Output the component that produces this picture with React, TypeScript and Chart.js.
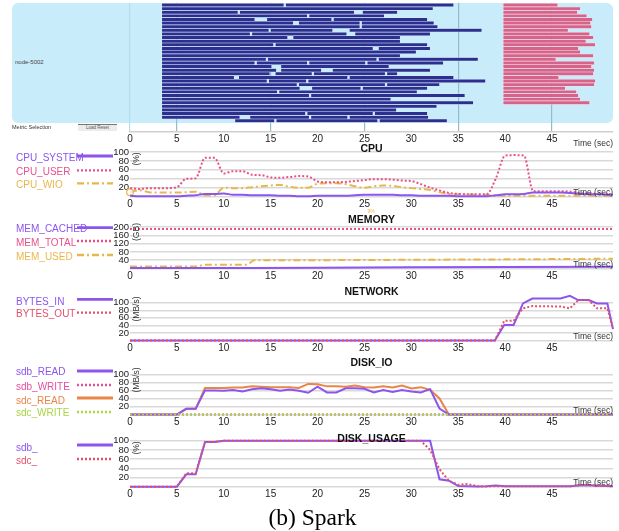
import React, { useEffect, useRef } from "react";
import { Chart, registerables } from "chart.js";

Chart.register(...registerables);

const FONT = "Arial, 'Liberation Sans', Helvetica, sans-serif";
const SERIF = "'Liberation Serif', 'Times New Roman', Times, serif";
Chart.defaults.font.family = FONT;

// ---------- shared axis ----------
const X_MAX = 51.5;
const LAST_TIME_LABEL = 45;
const TIME_STEP = 5;

// ---------- colours ----------
const PURPLE = "#8b55ee";
const PINK = "#e9508c";
const GOLD = "#e6b84a";
const RED = "#e4506a";
const MAGENTA = "#e54f9f";
const ORANGE = "#ea8448";
const GREEN = "#a9d546";
const BAR_BLUE = "#2c2f8d";
const BAR_PINK = "#d6638a";

// ---------- timeline (task bars) ----------
const blueRows: number[][][] = [
  [[3.4, 16.4], [16.6, 34.5]],
  [[3.4, 32.3]],
  [[3.4, 11.5], [11.7, 23.9], [24.8, 28.5]],
  [[3.4, 18.9], [19.1, 27.1]],
  [[3.4, 13.3], [14.6, 21.5], [21.7, 31.7]],
  [[3.4, 17.4], [18.0, 24.5], [24.7, 32.4]],
  [[3.4, 24.5], [24.7, 32.8]],
  [[3.4, 14.8], [15.0, 21.6], [23.4, 37.5]],
  [[3.4, 12.8], [13.0, 23.1], [24.0, 32.0]],
  [[3.4, 16.8], [17.4, 28.8]],
  [[3.4, 28.8]],
  [[3.4, 15.3], [15.5, 31.7]],
  [[3.4, 25.9], [26.5, 32.0]],
  [[3.4, 30.5]],
  [[3.4, 28.8]],
  [[3.4, 14.5], [14.7, 26.3], [26.5, 37.1]],
  [[3.4, 13.3], [13.5, 18.9], [19.1, 25.1], [25.3, 33.4]],
  [[3.4, 15.1], [16.1, 27.6]],
  [[3.4, 15.6], [16.1, 20.4], [21.6, 32.0]],
  [[3.4, 14.9], [15.5, 19.4], [19.6, 27.2], [27.4, 28.5]],
  [[3.4, 11.1], [11.6, 23.2], [23.4, 34.5]],
  [[3.4, 14.6], [14.8, 18.8], [19.0, 37.9]],
  [[3.4, 17.8], [18.0, 27.2], [27.4, 33.0]],
  [[3.4, 18.1], [19.4, 24.6], [24.8, 31.7]],
  [[3.4, 15.7], [15.9, 30.6]],
  [[3.4, 19.1], [19.3, 35.7]],
  [[3.4, 27.8]],
  [[3.4, 36.6]],
  [[3.4, 32.7]],
  [[3.4, 28.4]],
  [[3.4, 18.7], [18.9, 25.9], [26.1, 31.7]],
  [[3.4, 11.7], [12.8, 19.1], [19.3, 23.2], [23.4, 31.8]],
  [[11.2, 15.4], [15.6, 26.4], [26.6, 33.8]],
];
const pinkStart = 39.8;
const pinkEnds = [
  45.6, 48.0, 47.7, 48.7, 49.3, 49.1, 49.2, 46.7, 49.0, 49.4, 48.6, 49.6, 47.8, 48.0,
  49.4, 45.4, 49.5, 49.2, 49.5, 49.4, 45.7, 49.6, 49.5, 46.4, 47.6, 47.8, 48.0, 49.0,
];

// ---------- CPU (%) ----------
const cpuTime = [
  0, 1, 2, 3, 4, 5, 6, 7, 8, 9, 10, 11, 12, 13, 14, 15, 16, 17, 18, 19, 20, 21, 22, 23, 24, 25,
  26, 27, 28, 29, 30, 31, 32, 33, 34, 35, 36, 37, 38, 39, 40, 41, 42, 43, 44, 45, 46, 47, 48, 49,
  50, 51, 51.5,
];
const cpuSystem = [
  2, 1, 1, 1, 1, 1, 2, 3, 6, 6, 7, 4, 4, 3, 3, 3, 2, 2, 1, 1, 2, 2, 2, 2, 3, 4,
  4, 4, 4, 3, 3, 2, 2, 2, 2, 1, 1, 1, 1, 3, 5, 5, 6, 9, 9, 9, 9, 8, 6, 5,
  5, 4, 4,
];
const cpuUser = [
  19, 17, 19, 19, 19, 21, 40, 41, 87, 87, 52, 57, 57, 49, 48, 43, 42, 44, 46, 45, 34, 32, 32, 33, 35, 37,
  39, 39, 38, 36, 35, 28, 20, 14, 8, 6, 5, 5, 5, 40, 92, 93, 92, 12, 12, 12, 12, 11, 8, 7,
  6, 5, 5,
];
const cpuWio = [
  10, 14, 10, 9, 9, 9, 10, 11, 3, 3, 20, 19, 19, 21, 23, 25, 26, 22, 20, 20, 29, 30, 30, 28, 23, 20,
  23, 25, 24, 21, 19, 17, 15, 10, 6, 5, 5, 4, 4, 2, 2, 2, 2, 2, 2, 2, 2, 2, 2, 2,
  2, 2, 2,
];

// ---------- MEMORY (GB) ----------
const memTime = [0, 7, 8, 12.5, 13.2, 20, 30, 40, 51.5];
const memCached = [2, 2, 3, 3, 3, 4, 6, 7, 8];
const memTotal = [190, 190, 190, 190, 190, 190, 190, 190, 190];
const memUsed = [10, 10, 18, 18, 40, 40, 42, 44, 47];

// ---------- NETWORK (MB/s) ----------
const netTime = [0, 38.9, 39.9, 40.9, 41.9, 42.9, 45.9, 46.9, 47.8, 48.9, 49.8, 50.9, 51.5];
const bytesIn = [0, 0, 41, 41, 98, 111, 111, 118, 107, 107, 98, 98, 30];
const bytesOut = [0, 0, 52, 52, 85, 91, 90, 85, 107, 107, 85, 85, 32];

// ---------- DISK_IO (MB/s) ----------
const ioTime = [
  0, 1, 2, 3, 4, 5, 6, 7, 8, 9, 10, 11, 12, 13, 14, 15, 16, 17, 18, 19, 20, 21, 22, 23, 24, 25,
  26, 27, 28, 29, 30, 31, 32, 33, 34, 51.5,
];
const sdbRead = [
  0, 0, 0, 0, 0, 0, 14, 14, 60, 60, 59, 61, 57, 63, 65, 63, 59, 62, 59, 54, 69, 55, 55, 65, 65, 64,
  55, 61, 56, 61, 57, 55, 63, 15, 0, 0,
];
const sdcRead = [
  0, 0, 0, 0, 0, 0, 14, 14, 66, 66, 66, 67, 67, 70, 69, 68, 68, 68, 66, 76, 75, 70, 70, 69, 72, 68,
  67, 70, 67, 72, 65, 68, 61, 40, 0, 0,
];
const writeTime = [0, 51.5];
const sdbWrite = [0, 0];
const sdcWrite = [0, 0];

// ---------- DISK_USAGE (%) ----------
const usageTime = [0, 5, 6, 7, 8, 9, 10, 31, 32, 33, 34, 35, 36, 37, 38, 39, 40, 47, 48, 49, 50, 51.5];
const sdbUsage = [0, 0, 27, 27, 97, 97, 100, 100, 100, 16, 13, 1.5, 1, 0.5, 1, 2.5, 1, 1, 3, 3, 2, 1];
const sdcUsage = [0, 0, 29, 29, 97, 97, 100, 100, 80, 38, 13, 4, 6, 1, 0.5, 1, 1, 1, 3, 3, 2, 1];

// ---------- styles ----------
const SOLID: number[] = [];
const DOT = [2, 2];
const DASHDOT = [7, 3, 2, 3];

type Series = {
  name: string;
  x: number[];
  y: number[];
  color: string;
  dash: number[];
  labelY: number;
  lineY: number;
  order?: number;
  marker?: boolean;
};
type Panel = {
  title: string;
  unit: string;
  areaTop: number;
  areaBottom: number;
  yMax: number;
  yStep: number;
  smooth: boolean;
  titleY: number;
  unitY: number;
  timeY: number;
  series: Series[];
};

const panels: Panel[] = [
  {
    title: "CPU", unit: "(%)", areaTop: 152, areaBottom: 196.6, yMax: 100, yStep: 20, smooth: true,
    titleY: 147.5, unitY: 158.5, timeY: 192,
    series: [
      { name: "CPU_SYSTEM", x: cpuTime, y: cpuSystem, color: PURPLE, dash: SOLID, labelY: 157.5, lineY: 156, order: 1 },
      { name: "CPU_USER", x: cpuTime, y: cpuUser, color: PINK, dash: DOT, labelY: 171.5, lineY: 170.3, order: 2 },
      { name: "CPU_WIO", x: cpuTime, y: cpuWio, color: GOLD, dash: DASHDOT, labelY: 185, lineY: 183.3, order: 3, marker: true },
    ],
  },
  {
    title: "MEMORY", unit: "(GB)", areaTop: 227, areaBottom: 268.5, yMax: 200, yStep: 40, smooth: false,
    titleY: 219, unitY: 232, timeY: 264,
    series: [
      { name: "MEM_CACHED", x: memTime, y: memCached, color: PURPLE, dash: SOLID, labelY: 229, lineY: 227.7, order: 1 },
      { name: "MEM_TOTAL", x: memTime, y: memTotal, color: PINK, dash: DOT, labelY: 243, lineY: 241, order: 2 },
      { name: "MEM_USED", x: memTime, y: memUsed, color: GOLD, dash: DASHDOT, labelY: 257, lineY: 255, order: 3 },
    ],
  },
  {
    title: "NETWORK", unit: "(MB/s)", areaTop: 302.7, areaBottom: 340.5, yMax: 100, yStep: 20, smooth: false,
    titleY: 291, unitY: 308.5, timeY: 336.3,
    series: [
      { name: "BYTES_IN", x: netTime, y: bytesIn, color: PURPLE, dash: SOLID, labelY: 301.5, lineY: 299.3, order: 2 },
      { name: "BYTES_OUT", x: netTime, y: bytesOut, color: RED, dash: DOT, labelY: 314, lineY: 312.7, order: 1 },
    ],
  },
  {
    title: "DISK_IO", unit: "(MB/s)", areaTop: 374.3, areaBottom: 414.5, yMax: 100, yStep: 20, smooth: false,
    titleY: 362, unitY: 380, timeY: 410.3,
    series: [
      { name: "sdb_READ", x: ioTime, y: sdbRead, color: PURPLE, dash: SOLID, labelY: 372, lineY: 371, order: 3 },
      { name: "sdb_WRITE", x: writeTime, y: sdbWrite, color: MAGENTA, dash: DOT, labelY: 386.5, lineY: 385, order: 2 },
      { name: "sdc_READ", x: ioTime, y: sdcRead, color: ORANGE, dash: SOLID, labelY: 400.5, lineY: 398, order: 4 },
      { name: "sdc_WRITE", x: writeTime, y: sdcWrite, color: GREEN, dash: DOT, labelY: 413, lineY: 412, order: 1 },
    ],
  },
  {
    title: "DISK_USAGE", unit: "(%)", areaTop: 440.7, areaBottom: 486.7, yMax: 100, yStep: 20, smooth: false,
    titleY: 437.5, unitY: 447.5, timeY: 482,
    series: [
      { name: "sdb_", x: usageTime, y: sdbUsage, color: PURPLE, dash: SOLID, labelY: 448, lineY: 445, order: 2 },
      { name: "sdc_", x: usageTime, y: sdcUsage, color: RED, dash: DOT, labelY: 461, lineY: 459, order: 1 },
    ],
  },
];

// ---------- helpers ----------
function Label(props: {
  x: number; y: number; text: string; color?: string; size?: number; weight?: number;
  align?: "left" | "center" | "right"; family?: string;
}) {
  const { x, y, text, color = "#222", size = 10, weight = 400, align = "left", family = FONT } = props;
  const tx = align === "left" ? "0" : align === "center" ? "-50%" : "-100%";
  return (
    <div
      style={{
        position: "absolute", left: x, top: y, transform: `translate(${tx}, -50%)`,
        whiteSpace: "nowrap", fontFamily: family, fontSize: size, fontWeight: weight,
        color, lineHeight: 1, pointerEvents: "none",
      }}
    >
      {text}
    </div>
  );
}

function VLabel({ x, y, text }: { x: number; y: number; text: string }) {
  return (
    <div
      style={{
        position: "absolute", left: x, top: y, transform: "translate(-50%, -50%) rotate(-90deg)",
        whiteSpace: "nowrap", fontFamily: FONT, fontSize: 8.5, color: "#333", lineHeight: 1,
      }}
    >
      {text}
    </div>
  );
}

function timeTickLabel(v: number | string) {
  const n = Number(v);
  return n <= LAST_TIME_LABEL ? String(n) : "";
}

function lineConfig(p: Panel, padTop: number, xAxisH: number): any {
  return {
    type: "line",
    data: {
      datasets: p.series.map((s) => ({
        label: s.name,
        data: s.x.map((x, i) => ({ x, y: s.y[i] })),
        borderColor: s.color,
        borderWidth: 2,
        borderDash: s.dash,
        borderCapStyle: "butt",
        backgroundColor: "transparent",
        fill: false,
        order: s.order ?? 0,
        clip: false,
        cubicInterpolationMode: p.smooth ? "monotone" : "default",
        tension: 0,
        pointRadius: (ctx: any) => (s.marker && ctx.dataIndex === 0 ? 3.3 : 0),
        pointBorderColor: s.color,
        pointBackgroundColor: "rgba(255,255,255,0.7)",
        pointBorderWidth: 1.2,
      })),
    },
    options: {
      animation: false,
      responsive: false,
      events: [],
      layout: { padding: { top: padTop, right: 6, bottom: 0, left: 0 } },
      plugins: { legend: { display: false }, tooltip: { enabled: false }, title: { display: false } },
      scales: {
        x: {
          type: "linear", min: 0, max: X_MAX,
          afterFit: (s: any) => { s.height = xAxisH; },
          grid: { display: false, drawTicks: false },
          border: { display: false },
          ticks: {
            stepSize: TIME_STEP, autoSkip: false, maxRotation: 0, padding: 2,
            font: { size: 10, family: FONT }, color: "#222", callback: timeTickLabel,
          },
        },
        y: {
          type: "linear", min: 0, max: p.yMax,
          afterFit: (s: any) => { s.width = 130; },
          grid: { color: "#d9d9d9", lineWidth: 1.5, drawTicks: false },
          border: { display: false },
          ticks: {
            stepSize: p.yStep, autoSkip: false, padding: 1, font: { size: 9.5, family: FONT }, color: "#222",
            callback: (v: number | string) => (Number(v) === 0 ? "" : String(v)),
          },
        },
      },
    },
  };
}

function PanelView({ p }: { p: Panel }) {
  const ref = useRef<HTMLCanvasElement>(null);
  const canvasTop = Math.floor(p.areaTop - 8);
  const height = Math.ceil(p.areaBottom + 14 - canvasTop);
  useEffect(() => {
    const xAxisH = canvasTop + height - p.areaBottom;
    const chart = new Chart(ref.current as HTMLCanvasElement, lineConfig(p, p.areaTop - canvasTop, xAxisH));
    return () => chart.destroy();
  }, []);
  return (
    <>
      <canvas
        ref={ref}
        width={619}
        height={height}
        style={{ position: "absolute", left: 0, top: canvasTop, width: 619, height }}
      />
      <Label x={371.5} y={p.titleY} text={p.title} size={10.5} weight={700} align="center" color="#111" />
      <VLabel x={136} y={p.unitY} text={p.unit} />
      <Label x={613} y={p.timeY} text="Time (sec)" size={8.5} align="right" color="#333" />
      {p.series.map((s) => (
        <Label key={s.name} x={16} y={s.labelY} text={s.name} color={s.color} size={10} />
      ))}
    </>
  );
}

const TL_TOP = 2.7;
const TL_AXIS = 131.7;
const TL_ROW0 = 5;
const TL_ROW_H = 3.62;

function TimelineChart() {
  const ref = useRef<HTMLCanvasElement>(null);
  const height = 150;
  useEffect(() => {
    const segCount = Math.max(...blueRows.map((r) => r.length));
    const blueSets = Array.from({ length: segCount }, (_, k) => ({
      data: blueRows.flatMap((segs, r) => (segs[k] ? [{ x: segs[k], y: r }] : [])),
      backgroundColor: BAR_BLUE,
      borderColor: "rgba(220,235,255,0.9)",
      borderWidth: 0.5,
      borderSkipped: false,
      barThickness: 3.3,
      grouped: false,
    }));
    const pinkSet = {
      data: pinkEnds.map((e, r) => ({ x: [pinkStart, e], y: r })),
      backgroundColor: BAR_PINK,
      borderColor: "rgba(255,225,235,0.9)",
      borderWidth: 0.5,
      borderSkipped: false,
      barThickness: 3.3,
      grouped: false,
    };
    const yMin = -(TL_ROW0 - TL_TOP) / TL_ROW_H;
    const yMax = (TL_AXIS - TL_ROW0) / TL_ROW_H;
    const chart = new Chart(ref.current as HTMLCanvasElement, {
      type: "bar",
      data: { datasets: [...blueSets, pinkSet] as any },
      options: {
        indexAxis: "y",
        animation: false,
        responsive: false,
        events: [],
        layout: { padding: { top: TL_TOP, right: 6, bottom: 0, left: 130 } },
        plugins: { legend: { display: false }, tooltip: { enabled: false } },
        scales: {
          x: {
            type: "linear", min: 0, max: X_MAX,
            afterFit: (s: any) => { s.height = height - TL_AXIS; },
            grid: {
              drawTicks: false,
              lineWidth: 1.2,
              color: (ctx: any) => {
                const v = ctx.tick?.value;
                if (v === 0) return "#b7dcec";
                return v % 10 === 5 ? "#94bccd" : "rgba(0,0,0,0)";
              },
            },
            border: { display: true, color: "#cfcfcf", width: 1.5 },
            ticks: {
              stepSize: TIME_STEP, autoSkip: false, maxRotation: 0, padding: 2,
              font: { size: 10, family: FONT }, color: "#222", callback: timeTickLabel,
            },
          },
          y: {
            type: "linear", reverse: true, min: yMin, max: yMax, offset: false, display: false,
          },
        } as any,
      },
    } as any);
    return () => chart.destroy();
  }, []);
  return (
    <canvas
      ref={ref}
      width={619}
      height={height}
      style={{ position: "absolute", left: 0, top: 0, width: 619, height }}
    />
  );
}

function dashAttr(d: number[]) {
  return d.length ? d.join(" ") : undefined;
}

export default function App() {
  return (
    <div
      style={{
        position: "absolute", left: 0, top: 0, width: 619, height: 531, background: "#fff",
        overflow: "hidden", fontFamily: FONT,
      }}
    >
      <div
        style={{
          position: "absolute", left: 12, top: TL_TOP, width: 601, height: 120,
          background: "#c9ecfb", borderRadius: 6,
        }}
      />
      <Label x={15} y={62} text="node-5002" size={6} color="#444" />
      <TimelineChart />
      <Label x={12} y={127.5} text="Metric Selection" size={5.5} color="#333" />
      <div
        style={{
          position: "absolute", left: 78, top: 123.5, width: 39, height: 7, background: "#ececec",
          borderTop: "1.5px solid #777", boxSizing: "border-box",
        }}
      >
        <div style={{ fontSize: 4.5, lineHeight: "5px", color: "#555", textAlign: "center", fontFamily: FONT }}>
          Load  Reset
        </div>
      </div>
      <Label x={613} y={142.5} text="Time (sec)" size={8.5} align="right" color="#333" />
      {panels.map((p) => (
        <PanelView key={p.title} p={p} />
      ))}
      <Label x={371} y={210.5} text="9%" size={5} color={GOLD} align="center" />
      <svg
        width={619}
        height={531}
        style={{ position: "absolute", left: 0, top: 0, pointerEvents: "none" }}
      >
        {panels.flatMap((p) =>
          p.series.map((s) => (
            <line
              key={s.name}
              x1={77}
              x2={113}
              y1={s.lineY}
              y2={s.lineY}
              stroke={s.color}
              strokeWidth={s.dash.length ? 2.3 : 2.8}
              strokeDasharray={dashAttr(s.dash)}
            />
          ))
        )}
      </svg>
      <Label x={312.5} y={518} text="(b) Spark" size={23.5} family={SERIF} align="center" color="#000" />
    </div>
  );
}
